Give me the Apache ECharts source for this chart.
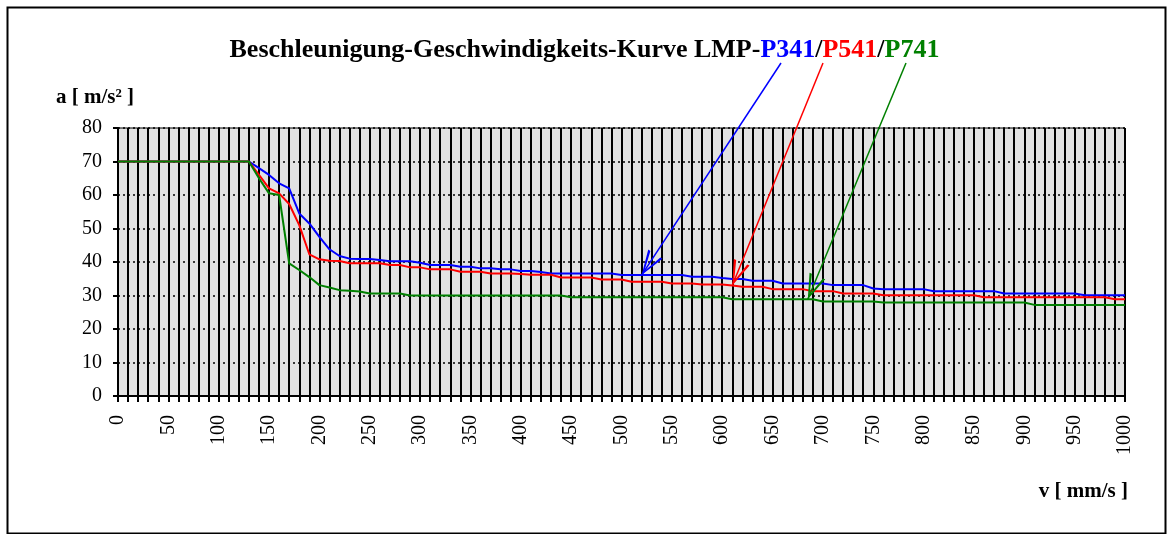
<!DOCTYPE html>
<html>
<head>
<meta charset="utf-8">
<script src="https://cdn.jsdelivr.net/npm/echarts@6/dist/echarts.min.js"></script>
<style>
  html, body { margin: 0; padding: 0; background: #fff; }
  #chart { width: 1169px; height: 534px; }
</style>
</head>
<body>
<div id="chart"></div>
<script>
// Geschwindigkeit v [mm/s], Stützstellen alle 10 mm/s
const speeds = [
  0, 10, 20, 30, 40, 50, 60, 70, 80, 90, 100, 110, 120, 130, 140, 150, 160, 170, 180, 190,
  200, 210, 220, 230, 240, 250, 260, 270, 280, 290, 300, 310, 320, 330, 340, 350, 360, 370, 380, 390,
  400, 410, 420, 430, 440, 450, 460, 470, 480, 490, 500, 510, 520, 530, 540, 550, 560, 570, 580, 590,
  600, 610, 620, 630, 640, 650, 660, 670, 680, 690, 700, 710, 720, 730, 740, 750, 760, 770, 780, 790,
  800, 810, 820, 830, 840, 850, 860, 870, 880, 890, 900, 910, 920, 930, 940, 950, 960, 970, 980, 990,
  1000
]

// Beschleunigung a [m/s²]
const accP341 = [
  70, 70, 70, 70, 70, 70, 70, 70, 70, 70, 70, 70, 70, 70, 68, 66, 63.5, 62, 54.5, 51.5,
  47.5, 43.8, 41.8, 41, 40.9, 40.9, 40.6, 40.2, 40.2, 40.2, 39.8, 39.1, 39.1, 39.1, 38.6, 38.6, 38.1, 38.1, 37.8, 37.8,
  37.3, 37.3, 37, 36.6, 36.6, 36.6, 36.6, 36.6, 36.6, 36.6, 36.1, 36.1, 36.1, 36.1, 36.1, 36.1, 36.1, 35.6, 35.6, 35.6,
  35.2, 34.9, 34.9, 34.4, 34.4, 34.4, 33.6, 33.6, 33.6, 33.6, 33.6, 33.1, 33.1, 33.1, 33.1, 32.1, 31.9, 31.9, 31.9, 31.9,
  31.9, 31.3, 31.3, 31.3, 31.3, 31.3, 31.3, 31.3, 30.6, 30.6, 30.6, 30.6, 30.6, 30.6, 30.6, 30.6, 30.1, 30.1, 30.1, 30.1,
  30.1
]
const accP541 = [
  70, 70, 70, 70, 70, 70, 70, 70, 70, 70, 70, 70, 70, 70, 66, 62, 60.5, 57.3, 51, 42.3,
  40.8, 40.4, 40.3, 39.6, 39.6, 39.6, 39.6, 39.1, 39.1, 38.4, 38.4, 37.8, 37.8, 37.8, 37.1, 37.1, 37.1, 36.6, 36.6, 36.6,
  36.4, 36.2, 36.2, 36.2, 35.4, 35.4, 35.4, 35.4, 34.8, 34.8, 34.8, 34.1, 34.1, 34.1, 34.1, 33.6, 33.6, 33.6, 33.3, 33.3,
  33.3, 33, 32.6, 32.6, 32.6, 31.9, 31.9, 31.9, 31.9, 31.3, 31.3, 31.3, 30.6, 30.6, 30.6, 30.6, 30.1, 30.1, 30.1, 30.1,
  30.1, 30.1, 30.1, 30.1, 30.1, 30.1, 29.5, 29.5, 29.5, 29.5, 29.5, 29.5, 29.5, 29.5, 29.5, 29.5, 29.5, 29.5, 29.5, 28.9,
  28.9
]
const accP741 = [
  70, 70, 70, 70, 70, 70, 70, 70, 70, 70, 70, 70, 70, 70, 65, 60.5, 60, 39.6, 37.6, 35.5,
  33.1, 32.4, 31.6, 31.4, 31.2, 30.6, 30.6, 30.6, 30.6, 30, 30, 30, 30, 30, 30, 30, 30, 30, 30, 30,
  30, 30, 30, 30, 30, 29.5, 29.5, 29.5, 29.5, 29.5, 29.5, 29.5, 29.5, 29.5, 29.5, 29.5, 29.5, 29.5, 29.5, 29.5,
  29.5, 28.9, 28.9, 28.9, 28.9, 28.9, 28.9, 28.9, 28.9, 28.9, 28.2, 28.2, 28.2, 28.2, 28.2, 28.2, 27.9, 27.9, 27.9, 27.9,
  27.9, 27.9, 27.9, 27.9, 27.9, 27.9, 27.9, 27.9, 27.9, 27.9, 27.9, 27.2, 27.2, 27.2, 27.2, 27.2, 27.2, 27.2, 27.2, 27.2,
  27.2
]

// Pfeilspitzen (v, a) auf den Kurven
const arrowP341 = [520, 36.1]
const arrowP541 = [610, 33]
const arrowP741 = [685, 28.9]

const serif = 'Liberation Serif'
// offene Pfeilspitze (V-Form)
const chevron = 'path://M10,0 L20,30 L17,30 L10,6 L3,30 L0,30 Z'

function pairs (vals) {
  return speeds.map(function (v, i) { return [v, vals[i]] })
}

function arrow (color, start, tip) {
  return {
    silent: true,
    animation: false,
    label: { show: false },
    lineStyle: { color: color, width: 1.5, type: 'solid' },
    data: [[
      { x: start[0], y: start[1], symbol: 'none' },
      { coord: tip, symbol: chevron, symbolSize: [17, 25], symbolOffset: [0, '50%'], itemStyle: { color: color } }
    ]]
  }
}

function line (name, color, vals, mark) {
  return {
    name: name,
    type: 'line',
    data: pairs(vals),
    showSymbol: false,
    symbol: 'none',
    lineStyle: { color: color, width: 2 },
    itemStyle: { color: color },
    markLine: mark
  }
}

const chart = echarts.init(document.getElementById('chart'))
const titleStyle = function (color) {
  return { fontFamily: serif, fontWeight: 'bold', fontSize: 26, color: color }
}

const option = {
  animation: false,
  backgroundColor: '#fff',
  title: {
    text: '{k|Beschleunigung-Geschwindigkeits-Kurve LMP-}{b|P341}{k|/}{r|P541}{k|/}{g|P741}',
    left: 'center',
    top: 32,
    textStyle: {
      rich: {
        k: titleStyle('#000'),
        b: titleStyle('#0000ff'),
        r: titleStyle('#ff0000'),
        g: titleStyle('#008000')
      }
    }
  },
  graphic: [{
    type: 'rect',
    left: 5,
    top: 5,
    shape: { width: 1158, height: 526 },
    style: { fill: 'none', stroke: '#000', lineWidth: 2 },
    silent: true
  }],
  grid: {
    left: 118,
    top: 128,
    right: 44,
    bottom: 138,
    show: true,
    backgroundColor: '#e2e2e2',
    borderColor: '#000',
    borderWidth: 1
  },
  xAxis: {
    type: 'value',
    min: 0,
    max: 1000,
    interval: 10,
    name: 'v [ mm/s ]',
    nameLocation: 'end',
    nameGap: 3,
    nameTextStyle: {
      fontFamily: serif, fontWeight: 'bold', fontSize: 21, color: '#000',
      align: 'right', verticalAlign: 'top', padding: [85, 0, 0, 0]
    },
    axisLine: { show: true, lineStyle: { color: '#000', width: 2 } },
    axisTick: { show: true, inside: false, length: 6, lineStyle: { color: '#000', width: 2 } },
    axisLabel: {
      rotate: 90,
      margin: 19,
      fontFamily: serif,
      fontSize: 20,
      color: '#000',
      formatter: function (v) { return v % 50 === 0 ? String(v) : '' }
    },
    splitLine: { show: true, lineStyle: { color: '#000', width: 2 } }
  },
  yAxis: {
    type: 'value',
    min: 0,
    max: 80,
    interval: 10,
    name: 'a [ m/s² ]',
    nameLocation: 'end',
    nameGap: 20,
    nameTextStyle: {
      fontFamily: serif, fontWeight: 'bold', fontSize: 21, color: '#000',
      align: 'center', padding: [0, 46, 0, 0]
    },
    axisLine: { show: true, lineStyle: { color: '#000', width: 2 } },
    axisTick: { show: true, inside: false, length: 5, lineStyle: { color: '#000', width: 2 } },
    axisLabel: { margin: 16, fontFamily: serif, fontSize: 20, color: '#000' },
    splitLine: { show: true, lineStyle: { color: '#000', width: 1.5, type: [2, 3] } }
  },
  series: [
    line('P341', '#0000ff', accP341, arrow('#0000ff', [781, 63], arrowP341)),
    line('P541', '#ff0000', accP541, arrow('#ff0000', [823, 63], arrowP541)),
    line('P741', '#008000', accP741, arrow('#008000', [906, 63], arrowP741))
  ]
}

chart.setOption(option)
</script>
</body>
</html>
